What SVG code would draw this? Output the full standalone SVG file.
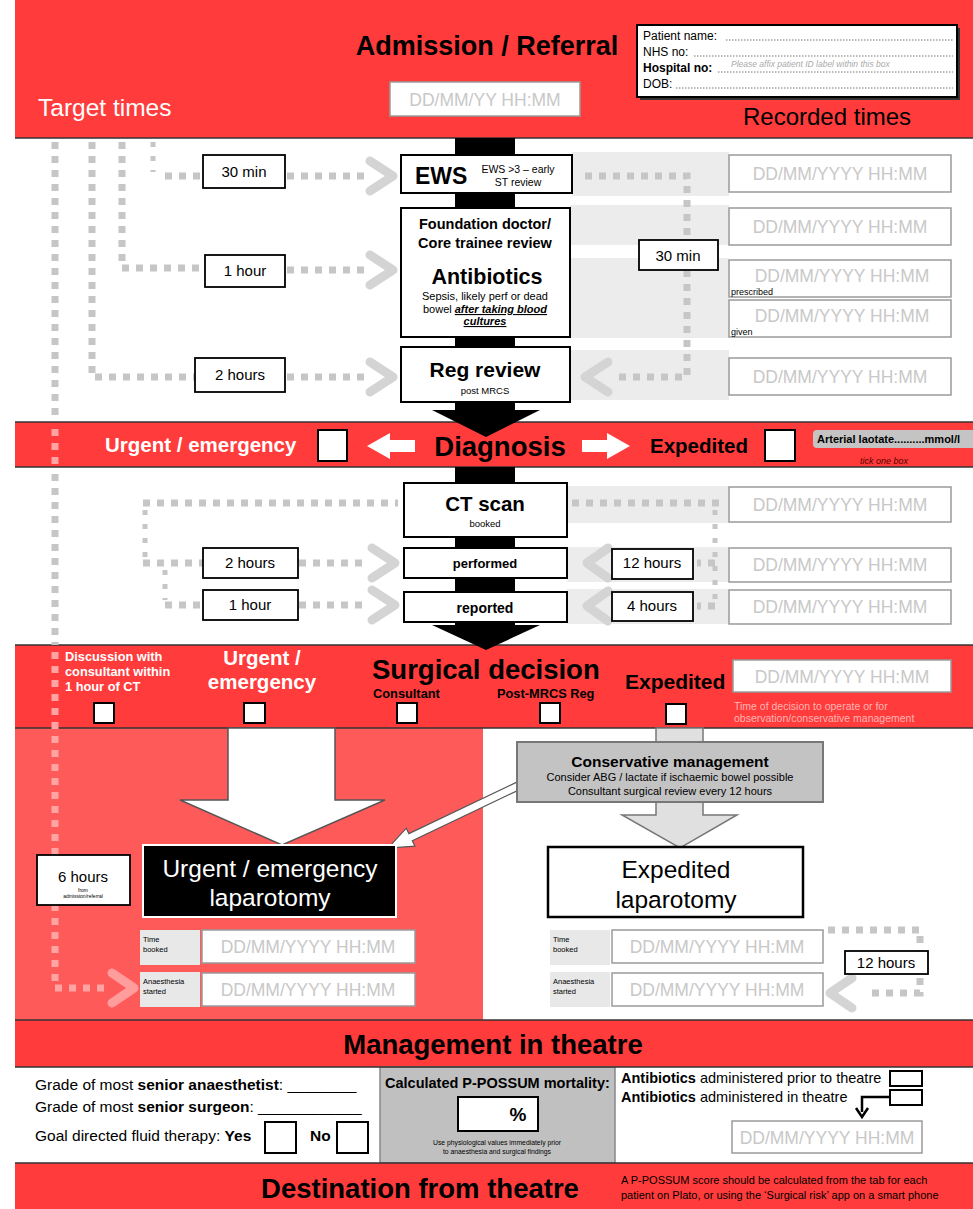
<svg xmlns="http://www.w3.org/2000/svg" width="973" height="1209" viewBox="0 0 973 1209">
<defs>
<style>
text{font-family:"Liberation Sans",Arial,sans-serif;}
.red{fill:#ff3b3b;}
.b{font-weight:bold;}
.box{fill:#fff;stroke:#000;stroke-width:2;}
.rec{fill:#fff;stroke:#9a9a9a;stroke-width:1.5;}
.rect{fill:#c8c8c8;font-size:17.5px;text-anchor:middle;}
.tbox{fill:#fff;stroke:#000;stroke-width:1.8;}
.tt{font-size:15px;text-anchor:middle;fill:#000;}
.dot{stroke:#c6c6c6;stroke-width:7;stroke-dasharray:7 7;fill:none;}
.dots{stroke:#c6c6c6;stroke-width:5;stroke-dasharray:5 9;fill:none;}
.dotp{stroke:#ffa3a3;stroke-width:7;stroke-dasharray:7 7;fill:none;}
.chev{stroke:#d4d4d4;stroke-width:9;fill:none;stroke-linecap:round;stroke-linejoin:round;}
.chevp{stroke:#ff9c9c;stroke-width:9;fill:none;stroke-linecap:round;stroke-linejoin:round;}
.strip{fill:#ececec;}
.cb{fill:#fff;stroke:#000;stroke-width:2;}
.sep{stroke:#333;stroke-width:1.5;}
.lab{fill:#e8e8e8;}
.tiny{font-size:7.5px;fill:#000;}
</style>
</defs>

<!-- backgrounds -->
<g id="bands">
<rect x="0" y="0" width="973" height="1209" fill="#fff"/>
<rect class="red" x="15" y="0" width="958" height="138"/>
<rect class="red" x="15" y="422" width="958" height="45"/>
<rect class="red" x="15" y="645" width="958" height="83"/>
<rect x="15" y="728" width="468" height="292" fill="#ff5a5a"/>
<rect class="red" x="15" y="1020" width="958" height="47"/>
<rect x="380" y="1067" width="235" height="96" fill="#c0c0c0" stroke="#888" stroke-width="1.5"/>
<rect class="red" x="15" y="1163" width="958" height="46"/>
<line class="sep" x1="15" y1="138" x2="973" y2="138"/>
<line class="sep" x1="15" y1="422" x2="973" y2="422"/>
<line class="sep" x1="15" y1="467" x2="973" y2="467"/>
<line class="sep" x1="15" y1="645" x2="973" y2="645"/>
<line class="sep" x1="15" y1="728" x2="973" y2="728"/>
<line class="sep" x1="15" y1="1020" x2="973" y2="1020"/>
<line class="sep" x1="15" y1="1067" x2="973" y2="1067"/>
<line class="sep" x1="15" y1="1163" x2="973" y2="1163"/>
<rect class="strip" x="572" y="152" width="157" height="44"/>
<rect class="strip" x="570" y="205" width="159" height="40"/>
<rect class="strip" x="570" y="258" width="159" height="80"/>
<rect class="strip" x="570" y="350" width="159" height="50"/>
<rect class="strip" x="567" y="486" width="162" height="37" fill="#f1f1f1"/>
<rect class="strip" x="567" y="547" width="162" height="35" fill="#f1f1f1"/>
<rect class="strip" x="567" y="589" width="162" height="35" fill="#f1f1f1"/>
</g>

<!-- header -->
<g id="header">
<text x="487" y="55" font-size="27" class="b" text-anchor="middle">Admission / Referral</text>
<text x="38" y="116" font-size="24.5" fill="#fff">Target times</text>
<text x="743" y="125" font-size="24">Recorded times</text>
<rect class="rec" x="390" y="82" width="190" height="34"/>
<text x="485" y="106" class="rect" font-size="18">DD/MM/YY HH:MM</text>
</g>

<g id="patient-label">
<rect x="640" y="28" width="320" height="72" fill="#333"/>
<rect x="637" y="25" width="320" height="72" fill="#fff" stroke="#000" stroke-width="2"/>
<text x="643" y="40" font-size="12">Patient name:</text>
<text x="643" y="56" font-size="12">NHS no:</text>
<text x="643" y="72" font-size="12" class="b">Hospital no:</text>
<text x="643" y="88" font-size="12">DOB:</text>
<g stroke="#777" stroke-width="1" stroke-dasharray="1.5 1.5">
<line x1="726" y1="40" x2="953" y2="40"/>
<line x1="694" y1="56" x2="953" y2="56"/>
<line x1="718" y1="72" x2="953" y2="72"/>
<line x1="676" y1="88" x2="953" y2="88"/>
</g>
<text x="731" y="67" font-size="8.5" font-style="italic" fill="#aaa">Please affix patient ID label within this box</text>
</g>

<!-- connectors -->
<g id="connectors">
<rect x="455" y="138" width="60" height="272" fill="#000"/>
<polygon points="432,410 540,410 486,437" fill="#000"/>
<rect x="455" y="467" width="60" height="160" fill="#000"/>
<polygon points="432,625 540,625 486,650" fill="#000"/>

<path class="dot" d="M55,142 V422"/>
<path class="dotp" d="M55,429 V467"/>
<path class="dot" d="M55,474 V645"/>
<path class="dotp" d="M55,652 V988 H108"/>
<polyline class="chevp" points="112,973 134,988 112,1003"/>
<path class="dot" d="M92,142 V377 H195"/>
<path class="dot" d="M122,142 V268 H205"/>
<path class="dots" d="M153,142 V172"/>
<path class="dot" d="M165,176 H203"/>
<path class="dot" d="M287,176 H370"/>
<path class="dot" d="M287,270 H370"/>
<path class="dot" d="M287,377 H370"/>
<polyline class="chev" points="370,161 393,176 370,191"/>
<polyline class="chev" points="370,255 393,270 370,285"/>
<polyline class="chev" points="370,362 393,377 370,392"/>

<path class="dot" d="M585,176 H687 V377 H612"/>
<polyline class="chev" points="608,362 585,377 608,392"/>

<path class="dot" d="M143,503 H398"/>
<path class="dots" d="M145,510 V560"/>
<path class="dot" d="M143,563 H203"/>
<path class="dots" d="M165,570 V600"/>
<path class="dot" d="M165,605 H203"/>
<path class="dot" d="M299,563 H365"/>
<path class="dot" d="M299,605 H365"/>
<polyline class="chev" points="372,548 395,563 372,578"/>
<polyline class="chev" points="372,590 395,605 372,620"/>

<path class="dot" d="M572,503 H720"/>
<path class="dots" d="M715,510 V605"/>
<path class="dot" d="M715,563 H697"/>
<path class="dot" d="M715,606 H697"/>
<polyline class="chev" points="608,548 587,563 608,578"/>
<polyline class="chev" points="608,591 587,606 608,621"/>

<path class="dot" d="M828,930 H920 V993 H866"/>
<polyline class="chev" points="852,978 830,993 852,1008"/>

<polygon points="228,728 335,728 335,800 385,800 282,845 180,800 228,800" fill="#fff" stroke="#555" stroke-width="1.5"/>
<polygon points="656,728 703,728 703,815 737,815 680,848 622,815 656,815" fill="#e0e0e0" stroke="#777" stroke-width="1.5"/>
<polygon points="518.3,781.4 408.9,833.6 406.3,828.2 388,848 414.9,846.2 412.3,840.8 521.7,788.6" fill="#fff" stroke="#555" stroke-width="1.2"/>

<path d="M890,1097 H862 V1112" fill="none" stroke="#000" stroke-width="2.5"/>
<path d="M856,1108 L862,1117 L868,1108" fill="none" stroke="#000" stroke-width="2.5"/>

<polygon points="367,446 390,433 390,440 415,440 415,452 390,452 390,459" fill="#fff"/>
<polygon points="630,446 607,433 607,440 582,440 582,452 607,452 607,459" fill="#fff"/>
</g>

<!-- time boxes -->
<g id="time-30min"><rect class="tbox" x="203" y="155" width="82" height="33"/><text class="tt" x="244" y="177">30 min</text></g>
<g id="time-1hour"><rect class="tbox" x="205" y="255" width="80" height="32"/><text class="tt" x="245" y="276">1 hour</text></g>
<g id="time-2hours"><rect class="tbox" x="195" y="358" width="90" height="34"/><text class="tt" x="240" y="380">2 hours</text></g>
<g id="time-30min-r"><rect class="tbox" x="639" y="240" width="79" height="30"/><text class="tt" x="678" y="261">30 min</text></g>
<g id="time-ct-2h"><rect class="tbox" x="203" y="548" width="95" height="30"/><text class="tt" x="250" y="568">2 hours</text></g>
<g id="time-ct-1h"><rect class="tbox" x="203" y="590" width="95" height="30"/><text class="tt" x="250" y="610">1 hour</text></g>
<g id="time-12h"><rect class="tbox" x="612" y="549" width="81" height="30"/><text class="tt" x="652" y="568" font-size="12.5">12 hours</text></g>
<g id="time-4h"><rect class="tbox" x="612" y="592" width="81" height="29"/><text class="tt" x="652" y="611" font-size="12.5">4 hours</text></g>
<g id="time-6h"><rect class="tbox" x="37" y="855" width="93" height="50"/><text class="tt" x="83" y="882" font-size="18.5">6 hours</text><text x="83" y="892" font-size="5" text-anchor="middle">from</text><text x="83" y="898" font-size="5" text-anchor="middle">admission/referral</text></g>
<g id="time-12h-b"><rect class="tbox" x="845" y="951" width="83" height="23"/><text class="tt" x="886" y="968" font-size="17">12 hours</text></g>

<!-- flow nodes -->
<g id="ews">
<rect class="box" x="401" y="155" width="171" height="38"/>
<text x="415" y="184" font-size="23" class="b">EWS</text>
<text x="518" y="173" font-size="10.5" text-anchor="middle">EWS &gt;3 – early</text>
<text x="518" y="186" font-size="10.5" text-anchor="middle">ST review</text>
</g>
<g id="foundation">
<rect class="box" x="401" y="208" width="169" height="129"/>
<text x="485" y="229" font-size="14.5" class="b" text-anchor="middle">Foundation doctor/</text>
<text x="485" y="248" font-size="14.5" class="b" text-anchor="middle">Core trainee review</text>
<text x="487" y="284" font-size="21.5" class="b" text-anchor="middle">Antibiotics</text>
<text x="485" y="300" font-size="11" text-anchor="middle">Sepsis, likely perf or dead</text>
<text x="485" y="313" font-size="11" text-anchor="middle">bowel <tspan font-weight="bold" font-style="italic" text-decoration="underline">after taking blood</tspan></text>
<text x="485" y="325" font-size="11" text-anchor="middle" font-weight="bold" font-style="italic" text-decoration="underline">cultures</text>
</g>
<g id="reg-review">
<rect class="box" x="401" y="347" width="169" height="55"/>
<text x="485" y="377" font-size="21" class="b" text-anchor="middle">Reg review</text>
<text x="485" y="394" font-size="9.5" text-anchor="middle">post MRCS</text>
</g>
<g id="ct-scan">
<rect class="box" x="404" y="483" width="163" height="54"/>
<text x="485" y="511" font-size="20.5" class="b" text-anchor="middle">CT scan</text>
<text x="485" y="527" font-size="9.5" text-anchor="middle">booked</text>
</g>
<g id="ct-performed"><rect class="box" x="404" y="548" width="163" height="30"/><text x="485" y="568" font-size="13" class="b" text-anchor="middle">performed</text></g>
<g id="ct-reported"><rect class="box" x="404" y="592" width="163" height="30"/><text x="485" y="613" font-size="14" class="b" text-anchor="middle">reported</text></g>

<!-- recorded time boxes -->
<g id="recorded-times">
<rect class="rec" x="729" y="155" width="222" height="37"/><text class="rect" x="840" y="180">DD/MM/YYYY HH:MM</text>
<rect class="rec" x="729" y="208" width="222" height="37"/><text class="rect" x="840" y="233">DD/MM/YYYY HH:MM</text>
<rect class="rec" x="729" y="260" width="222" height="37"/><text class="rect" x="842" y="282">DD/MM/YYYY HH:MM</text>
<rect class="rec" x="729" y="300" width="222" height="37"/><text class="rect" x="842" y="322">DD/MM/YYYY HH:MM</text>
<text x="731" y="295" font-size="9">prescribed</text>
<text x="731" y="335" font-size="9">given</text>
<rect class="rec" x="729" y="358" width="222" height="37"/><text class="rect" x="840" y="383">DD/MM/YYYY HH:MM</text>
<rect class="rec" x="729" y="487" width="222" height="35"/><text class="rect" x="840" y="511">DD/MM/YYYY HH:MM</text>
<rect class="rec" x="729" y="548" width="222" height="34"/><text class="rect" x="840" y="571">DD/MM/YYYY HH:MM</text>
<rect class="rec" x="729" y="590" width="222" height="34"/><text class="rect" x="840" y="613">DD/MM/YYYY HH:MM</text>
</g>

<!-- diagnosis band -->
<g id="diagnosis">
<text x="105" y="452" font-size="20.5" class="b" fill="#fff">Urgent / emergency</text>
<rect class="cb" x="318" y="430" width="29" height="31"/>
<text x="500" y="456" font-size="27.5" class="b" text-anchor="middle">Diagnosis</text>
<text x="650" y="453" font-size="20.5" class="b">Expedited</text>
<rect class="cb" x="765" y="430" width="30" height="31"/>
<rect x="813" y="430" width="165" height="18" rx="4" fill="#c4c4c4"/>
<text x="817" y="443" font-size="11" class="b">Arterial laotate..........mmol/l</text>
<text x="860" y="464" font-size="9" font-style="italic" fill="#5a0000">tick one box</text>
</g>

<!-- surgical decision band -->
<g id="surgical-decision">
<text x="65" y="661" font-size="12.8" class="b" fill="#fff">Discussion with</text>
<text x="65" y="676" font-size="12.8" class="b" fill="#fff">consultant within</text>
<text x="65" y="691" font-size="12.8" class="b" fill="#fff">1 hour of CT</text>
<text x="262" y="665" font-size="20.5" class="b" fill="#fff" text-anchor="middle">Urgent /</text>
<text x="262" y="689" font-size="20.5" class="b" fill="#fff" text-anchor="middle">emergency</text>
<text x="372" y="679" font-size="27.5" class="b">Surgical decision</text>
<text x="373" y="698" font-size="12.8" class="b">Consultant</text>
<text x="497" y="698" font-size="12.8" class="b">Post-MRCS Reg</text>
<text x="625" y="689" font-size="21" class="b">Expedited</text>
<rect class="cb" x="94" y="703" width="20" height="20"/>
<rect class="cb" x="244" y="703" width="21" height="20"/>
<rect class="cb" x="397" y="703" width="20" height="20"/>
<rect class="cb" x="540" y="703" width="20" height="20"/>
<rect class="cb" x="666" y="704" width="20" height="20"/>
<rect class="rec" x="733" y="660" width="218" height="32"/><text class="rect" x="842" y="683">DD/MM/YYYY HH:MM</text>
<text x="734" y="710" font-size="10.5" fill="#ffb5b5">Time of decision to operate or for</text>
<text x="734" y="722" font-size="10.5" fill="#ffb5b5">observation/conservative management</text>
</g>

<g id="conservative">
<rect x="517" y="742" width="306" height="60" fill="#c3c3c3" stroke="#777" stroke-width="2"/>
<text x="670" y="767" font-size="15.5" class="b" text-anchor="middle">Conservative management</text>
<text x="670" y="781" font-size="11" text-anchor="middle">Consider ABG / lactate if ischaemic bowel possible</text>
<text x="670" y="795" font-size="11" text-anchor="middle">Consultant surgical review every 12 hours</text>
</g>

<g id="urgent-laparotomy">
<rect x="143" y="845" width="253" height="72" fill="#000" stroke="#fff" stroke-width="2"/>
<text x="270" y="877" font-size="24.5" fill="#fff" text-anchor="middle">Urgent / emergency</text>
<text x="270" y="906" font-size="24.5" fill="#fff" text-anchor="middle">laparotomy</text>
<rect class="lab" x="140" y="930" width="60" height="35"/>
<text class="tiny" x="143" y="942">Time</text><text class="tiny" x="143" y="952">booked</text>
<rect class="rec" x="202" y="930" width="213" height="33"/><text class="rect" x="308" y="953">DD/MM/YYYY HH:MM</text>
<rect class="lab" x="140" y="972" width="60" height="35"/>
<text class="tiny" x="143" y="984">Anaesthesia</text><text class="tiny" x="143" y="994">started</text>
<rect class="rec" x="202" y="973" width="213" height="33"/><text class="rect" x="308" y="996">DD/MM/YYYY HH:MM</text>
</g>

<g id="expedited-laparotomy">
<rect x="548" y="847" width="255" height="70" fill="#fff" stroke="#000" stroke-width="2.5"/>
<text x="676" y="878" font-size="24.5" text-anchor="middle">Expedited</text>
<text x="676" y="908" font-size="24.5" text-anchor="middle">laparotomy</text>
<rect class="lab" x="550" y="930" width="60" height="35"/>
<text class="tiny" x="553" y="942">Time</text><text class="tiny" x="553" y="952">booked</text>
<rect class="rec" x="612" y="930" width="211" height="33"/><text class="rect" x="717" y="953">DD/MM/YYYY HH:MM</text>
<rect class="lab" x="550" y="972" width="60" height="35"/>
<text class="tiny" x="553" y="984">Anaesthesia</text><text class="tiny" x="553" y="994">started</text>
<rect class="rec" x="612" y="973" width="211" height="33"/><text class="rect" x="717" y="996">DD/MM/YYYY HH:MM</text>
</g>

<g id="theatre">
<text x="493" y="1054" font-size="27.5" class="b" text-anchor="middle">Management in theatre</text>
<text x="35" y="1090" font-size="15.5">Grade of most <tspan font-weight="bold">senior anaesthetist</tspan>: ________</text>
<text x="35" y="1112" font-size="15.5">Grade of most <tspan font-weight="bold">senior surgeon</tspan>: ____________</text>
<text x="35" y="1141" font-size="15.5">Goal directed fluid therapy: <tspan font-weight="bold">Yes</tspan></text>
<rect class="cb" x="265" y="1122" width="31" height="31"/>
<text x="310" y="1141" font-size="15.5" class="b">No</text>
<rect class="cb" x="337" y="1122" width="31" height="31"/>
<text x="385" y="1088" font-size="14.5" class="b">Calculated P-POSSUM mortality:</text>
<rect class="cb" x="458" y="1097" width="80" height="34" stroke-width="1.5"/>
<text x="518" y="1121" font-size="19" class="b" text-anchor="middle">%</text>
<text x="497" y="1145" font-size="6.8" text-anchor="middle">Use physiological values immediately prior</text>
<text x="497" y="1154" font-size="6.8" text-anchor="middle">to anaesthesia and surgical findings</text>
<text x="621" y="1083" font-size="14.5"><tspan font-weight="bold">Antibiotics</tspan> administered prior to theatre</text>
<text x="621" y="1102" font-size="14.5"><tspan font-weight="bold">Antibiotics</tspan> administered in theatre</text>
<rect class="cb" x="890" y="1071" width="32" height="15" stroke-width="1.5"/>
<rect class="cb" x="890" y="1090" width="32" height="15" stroke-width="1.5"/>
<rect class="rec" x="732" y="1121" width="190" height="32"/><text class="rect" x="827" y="1144">DD/MM/YYYY HH:MM</text>
</g>

<g id="destination">
<text x="420" y="1198" font-size="27.5" class="b" text-anchor="middle">Destination from theatre</text>
<text x="621" y="1184" font-size="11">A P-POSSUM score should be calculated from the tab for each</text>
<text x="621" y="1199" font-size="11">patient on Plato, or using the ‘Surgical risk’ app on a smart phone</text>
</g>
</svg>
